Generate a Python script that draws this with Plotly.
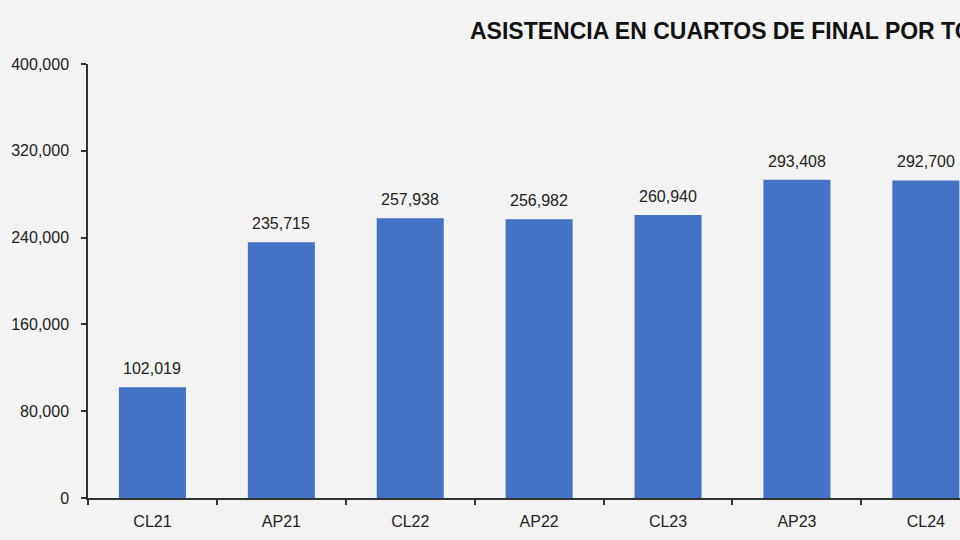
import plotly.graph_objects as go

categories = ["CL21", "AP21", "CL22", "AP22", "CL23", "AP23", "CL24"]
attendance = [102019, 235715, 257938, 256982, 260940, 293408, 292700]
y_ticks = [0, 80000, 160000, 240000, 320000, 400000]
title_text = "ASISTENCIA EN CUARTOS DE FINAL POR TORNEO"

BG = "#f3f3f3"
BAR = "#4472C4"
FONT = "Liberation Sans, Arial, sans-serif"

fig = go.Figure(
    go.Bar(
        x=categories,
        y=attendance,
        marker=dict(color=BAR, line=dict(width=0)),
        width=0.52,
    )
)

label_annotations = [
    dict(
        x=c, y=v, xref="x", yref="y",
        text=f"{v:,}",
        showarrow=False,
        xanchor="center", yanchor="bottom",
        yshift=8,
        font=dict(family=FONT, size=16, color="#222222"),
    )
    for c, v in zip(categories, attendance)
]

fig.update_layout(
    width=960,
    height=540,
    margin=dict(l=88, r=0, t=64, b=42),
    paper_bgcolor=BG,
    plot_bgcolor=BG,
    showlegend=False,
    font=dict(family=FONT, color="#222222"),
    annotations=label_annotations + [
        dict(
            text="<b>" + title_text + "</b>",
            xref="paper", yref="paper",
            x=(468 - 88) / 872, y=1.0,
            xanchor="left", yanchor="bottom",
            yshift=18,
            showarrow=False,
            font=dict(family=FONT, size=23, color="#111111"),
        )
    ],
)

fig.update_xaxes(
    range=[-0.5, 6.265],
    showline=True, linecolor="#333333", linewidth=1.5,
    ticks="outside", ticklen=5, tickcolor="#333333", tickwidth=1.5,
    tickson="boundaries",
    ticklabelstandoff=8,
    showgrid=False,
    tickfont=dict(size=16, color="#222222"),
)
fig.update_yaxes(
    range=[0, 400000],
    tickvals=y_ticks,
    tickformat=",",
    showline=True, linecolor="#333333", linewidth=1.5,
    ticks="outside", ticklen=5, tickcolor="#333333", tickwidth=1.5,
    ticklabelstandoff=9,
    showgrid=False, zeroline=False,
    tickfont=dict(size=16, color="#222222"),
)

fig.write_html("out.html")
